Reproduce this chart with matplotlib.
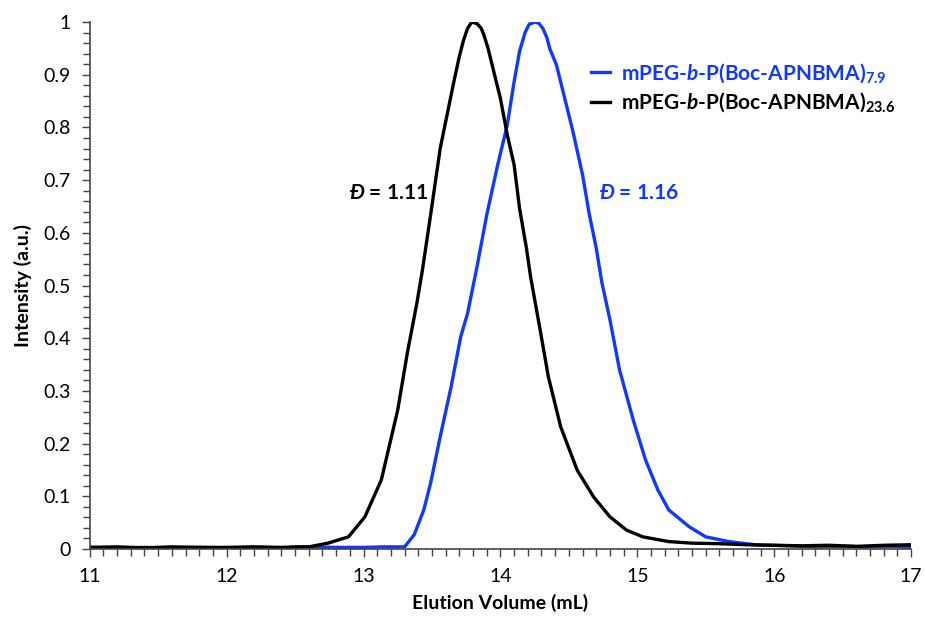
import matplotlib
matplotlib.use('Agg')
import matplotlib.pyplot as plt
from matplotlib.ticker import MultipleLocator, FuncFormatter

plt.rcParams['font.family'] = ['Lato', 'DejaVu Sans']
plt.rcParams['mathtext.fontset'] = 'custom'
plt.rcParams['mathtext.rm'] = 'Lato'
plt.rcParams['mathtext.bf'] = 'Lato:bold'
plt.rcParams['mathtext.it'] = 'Lato:italic'
plt.rcParams['mathtext.bfit'] = 'Lato:italic:bold'

# mPEG-b-P(Boc-APNBMA)7.9  (blue)
blue_x = [11.0, 11.2, 11.4, 11.6, 11.8, 12.0, 12.2, 12.4, 12.6, 12.8, 13.0, 13.15, 13.30,
          13.37, 13.44, 13.49, 13.56, 13.64, 13.71, 13.76, 13.83, 13.90, 13.98, 14.05,
          14.10, 14.14, 14.18, 14.21, 14.25, 14.28, 14.31, 14.34, 14.36, 14.41, 14.47,
          14.53, 14.60, 14.65, 14.70, 14.74, 14.80, 14.87, 14.97, 15.06, 15.15, 15.23,
          15.38, 15.50, 15.67, 15.86, 16.1, 16.3, 16.5, 16.7, 16.85, 17.0]
blue_y = [0.003, 0.002, 0.003, 0.002, 0.003, 0.002, 0.003, 0.002, 0.004, 0.003, 0.003, 0.004, 0.004,
          0.027, 0.074, 0.125, 0.213, 0.308, 0.403, 0.447, 0.537, 0.634, 0.729, 0.805,
          0.887, 0.945, 0.980, 0.996, 1.0, 0.998, 0.988, 0.970, 0.950, 0.918, 0.855,
          0.792, 0.710, 0.634, 0.571, 0.507, 0.435, 0.340, 0.245, 0.169, 0.112, 0.074,
          0.042, 0.023, 0.014, 0.008, 0.006, 0.004, 0.005, 0.004, 0.005, 0.003]

# mPEG-b-P(Boc-APNBMA)23.6  (black)
black_x = [11.0, 11.2, 11.4, 11.6, 11.8, 12.0, 12.2, 12.4, 12.5, 12.6, 12.74, 12.89, 13.01,
           13.13, 13.25, 13.32, 13.39, 13.43, 13.49, 13.56, 13.66, 13.70, 13.73, 13.76,
           13.79, 13.83, 13.86, 13.88, 13.91, 13.94, 14.00, 14.05, 14.10, 14.14, 14.19,
           14.22, 14.29, 14.35, 14.44, 14.56, 14.68, 14.80, 14.92, 15.04, 15.23, 15.4,
           15.6, 15.8, 16.0, 16.2, 16.4, 16.6, 16.8, 17.0]
black_y = [0.003, 0.004, 0.002, 0.004, 0.003, 0.003, 0.004, 0.003, 0.004, 0.004, 0.011, 0.023, 0.061,
           0.131, 0.264, 0.372, 0.467, 0.529, 0.634, 0.760, 0.887, 0.935, 0.965, 0.988,
           1.0, 0.997, 0.988, 0.975, 0.950, 0.918, 0.855, 0.786, 0.729, 0.646, 0.571,
           0.517, 0.416, 0.327, 0.232, 0.150, 0.099, 0.061, 0.036, 0.023, 0.014, 0.011,
           0.010, 0.008, 0.007, 0.006, 0.007, 0.005, 0.007, 0.008]

blue_label = 'mPEG-$\\mathbfit{b}$-P(Boc-APNBMA)$_{\\mathbf{7.9}}$'
black_label = 'mPEG-$\\mathbfit{b}$-P(Boc-APNBMA)$_{\\mathbf{23.6}}$'
BLUE = '#1038ff'

fig = plt.figure(figsize=(9.25, 6.31), dpi=100)
ax = fig.add_axes([0.097, 0.13, 0.888, 0.835])

ax.plot(blue_x, blue_y, color=BLUE, lw=2.4, label=blue_label)
ax.plot(black_x, black_y, color='black', lw=2.4, label=black_label)

ax.set_xlim(11, 17)
ax.set_ylim(0, 1)
ax.xaxis.set_major_locator(MultipleLocator(1))
ax.xaxis.set_minor_locator(MultipleLocator(0.1))
ax.yaxis.set_major_locator(MultipleLocator(0.1))
ax.yaxis.set_minor_locator(MultipleLocator(0.02))
ax.yaxis.set_major_formatter(FuncFormatter(lambda v, p: '%g' % round(v, 2)))

for s in ['top', 'right']:
    ax.spines[s].set_visible(False)
for s in ['left', 'bottom']:
    ax.spines[s].set_color('#444444')
    ax.spines[s].set_linewidth(1.2)
ax.tick_params(which='major', length=6, width=1, color='#444444', labelsize=14, pad=8)
ax.tick_params(which='minor', length=5, width=1, color='#444444')

ax.set_xlabel('Elution Volume (mL)', fontsize=14, fontweight='bold', labelpad=6)
ax.set_ylabel('Intensity (a.u.)', fontsize=14, fontweight='bold', labelpad=8)

ax.text(13.47, 0.675, '$\\mathbfit{Đ}$ = 1.11', fontsize=15, fontweight='bold',
        color='black', ha='right', va='center')
ax.text(14.72, 0.675, '$\\mathbfit{Đ}$ = 1.16', fontsize=15, fontweight='bold',
        color=BLUE, ha='left', va='center')

leg = ax.legend(loc='upper left', bbox_to_anchor=(0.588, 0.962), frameon=False,
                handlelength=0.9, handletextpad=0.5, labelspacing=0.3,
                prop={'size': 15, 'weight': 'bold'}, labelcolor='linecolor')

fig.savefig('out.png', dpi=100)
